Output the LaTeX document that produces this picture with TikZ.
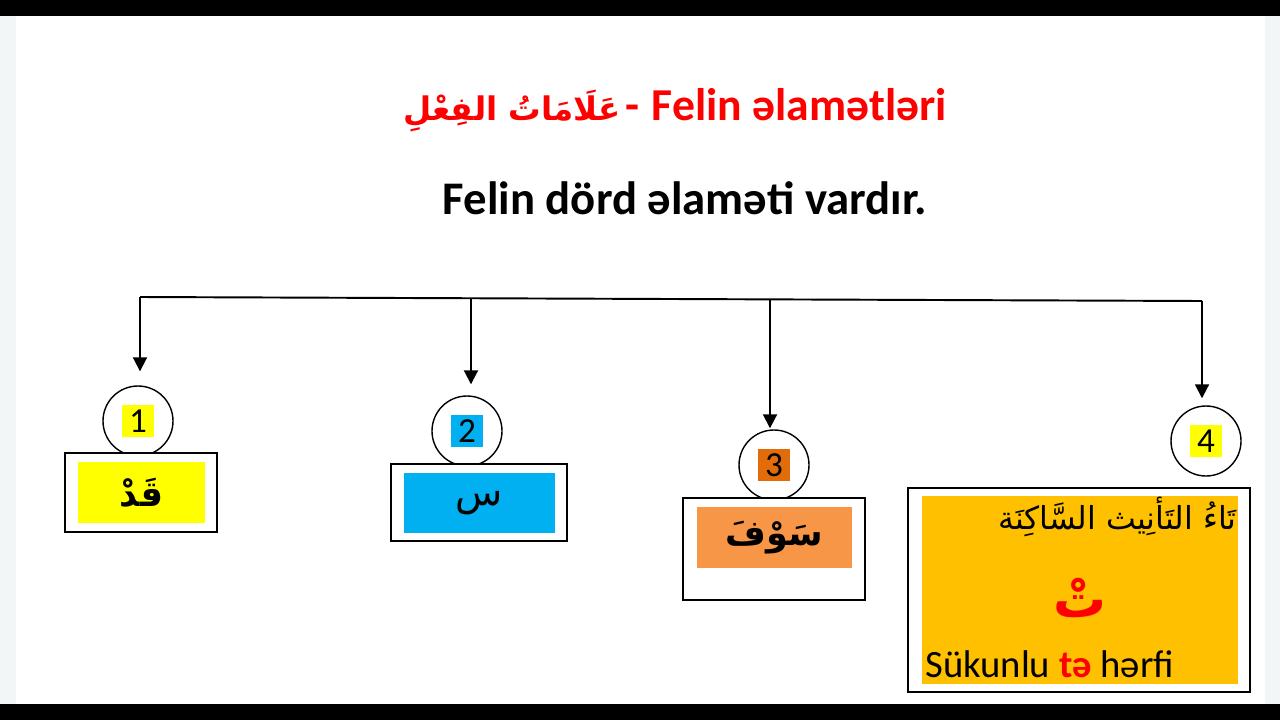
\documentclass[tikz,border=0pt]{standalone}
\usepackage{fontspec}
\setmainfont{Carlito}
\newfontfamily\arabicfont[Script=Arabic]{DejaVu Sans}
\TeXXeTstate=1
\usetikzlibrary{arrows.meta}
\definecolor{markyellow}{HTML}{FFFF00}
\definecolor{markblue}{HTML}{00B0F0}
\definecolor{markorange}{HTML}{F79646}
\definecolor{numorange}{HTML}{E36C0A}
\definecolor{markgold}{HTML}{FFC000}
\definecolor{titlered}{HTML}{FF0000}
\definecolor{edgegrey}{HTML}{F2F6F7}
\newcommand{\px}{0.02cm}
\tikzset{
  numring/.style={circle,draw=black,line width=0.8pt,fill=white,minimum size=70*\px,inner sep=0pt},
  numtag/.style={fill=#1,minimum size=32*\px,inner sep=0pt,font=\fontsize{20}{22}\selectfont},
  outerbox/.style={draw=black,line width=1.1pt,fill=white,inner sep=0pt},
  markbox/.style={fill=#1,inner sep=0pt},
  branch/.style={line width=1.1pt,-{Triangle[width=0.28cm,length=0.28cm]}}
}
\begin{document}
\begin{tikzpicture}[x=\px,y=-\px]
  \useasboundingbox (0,0) rectangle (1280,720);
  % screen frame
  \fill[edgegrey] (0,0) rectangle (1280,720);
  \fill[white] (16,16) rectangle (1265,704);
  \fill[black] (0,0) rectangle (1280,16);
  \fill[black] (0,704) rectangle (1280,720);
  % headings
  \node[text=titlered,font=\fontsize{26}{30}\selectfont\bfseries] (title) at (675,110)
    {{\arabicfont\bfseries\fontsize{18.5}{24}\selectfont\beginR عَلَامَاتُ الفِعْلِ\endR}\hspace{0.1em}-\hspace{0.05em} Felin əlamətləri};
  \node[font=\fontsize{26.6}{30}\selectfont\bfseries] (sub) at (685,198) {Felin dörd əlaməti vardır.};
  % branch line
  \coordinate (t1) at (140,297);
  \coordinate (t2) at (471,298.2);
  \coordinate (t3) at (770,299.4);
  \coordinate (t4) at (1202,301);
  \draw[line width=1.1pt] (t1) -- (t4);
  % numbered rings
  \node[numring] (c1) at (138,421) {};
  \node[numring] (c2) at (467,431) {};
  \node[numring] (c3) at (774,465) {};
  \node[numring] (c4) at (1206,441) {};
  \node[numtag=markyellow] (n1) at (c1) {1};
  \node[numtag=markblue] (n2) at (c2) {2};
  \node[numtag=numorange] (n3) at (c3) {3};
  \node[numtag=markyellow] (n4) at (c4) {4};
  \draw[branch,shorten >=0.28cm] (t1) -- (t1 |- c1.north);
  \draw[branch,shorten >=0.22cm] (t2) -- (t2 |- c2.north);
  \draw[branch,shorten >=0.02cm] (t3) -- (t3 |- c3.north);
  \draw[branch,shorten >=0.14cm] (t4) -- (t4 |- c4.north);
  % boxes
  \node[outerbox,minimum width=152*\px,minimum height=79*\px] (b1) at (141,492.5) {};
  \node[markbox=markyellow,minimum width=127*\px,minimum height=61*\px,
    font=\arabicfont\bfseries\fontsize{20}{24}\selectfont] (m1) at (141.5,492.5) {\beginR قَدْ\endR};
  \node[outerbox,minimum width=176*\px,minimum height=77*\px] (b2) at (479,502.5) {};
  \node[markbox=markblue,minimum width=151*\px,minimum height=60*\px,
    font=\arabicfont\fontsize{22}{26}\selectfont] (m2) at (479.5,503) {\beginR س\endR};
  \node[outerbox,minimum width=182*\px,minimum height=102*\px] (b3) at (774,549) {};
  \node[markbox=markorange,minimum width=155*\px,minimum height=61*\px,
    font=\arabicfont\bfseries\fontsize{20}{24}\selectfont] (m3) at (774.5,537.5) {\beginR سَوْفَ\endR};
  \node[outerbox,minimum width=342*\px,minimum height=204*\px] (b4) at (1079,590) {};
  \node[markbox=markgold,minimum width=316*\px,minimum height=188*\px] (m4) at (1080,590) {};
  \node[anchor=east,font=\arabicfont\fontsize{18}{22}\selectfont,inner sep=0pt] (m4a) at (1237,517)
    {\beginR تَاءُ التَأنِيث السَّاكِنَة\endR};
  \node[text=titlered,font=\arabicfont\bfseries\fontsize{30}{34}\selectfont] (m4b) at (1080,598) {\beginR تْ\endR};
  \node[anchor=west,inner sep=0pt,font=\fontsize{22}{26}\selectfont] (m4c) at (925,664)
    {Sükunlu \textcolor{titlered}{\bfseries tə} hərfi};
\end{tikzpicture}
\end{document}
